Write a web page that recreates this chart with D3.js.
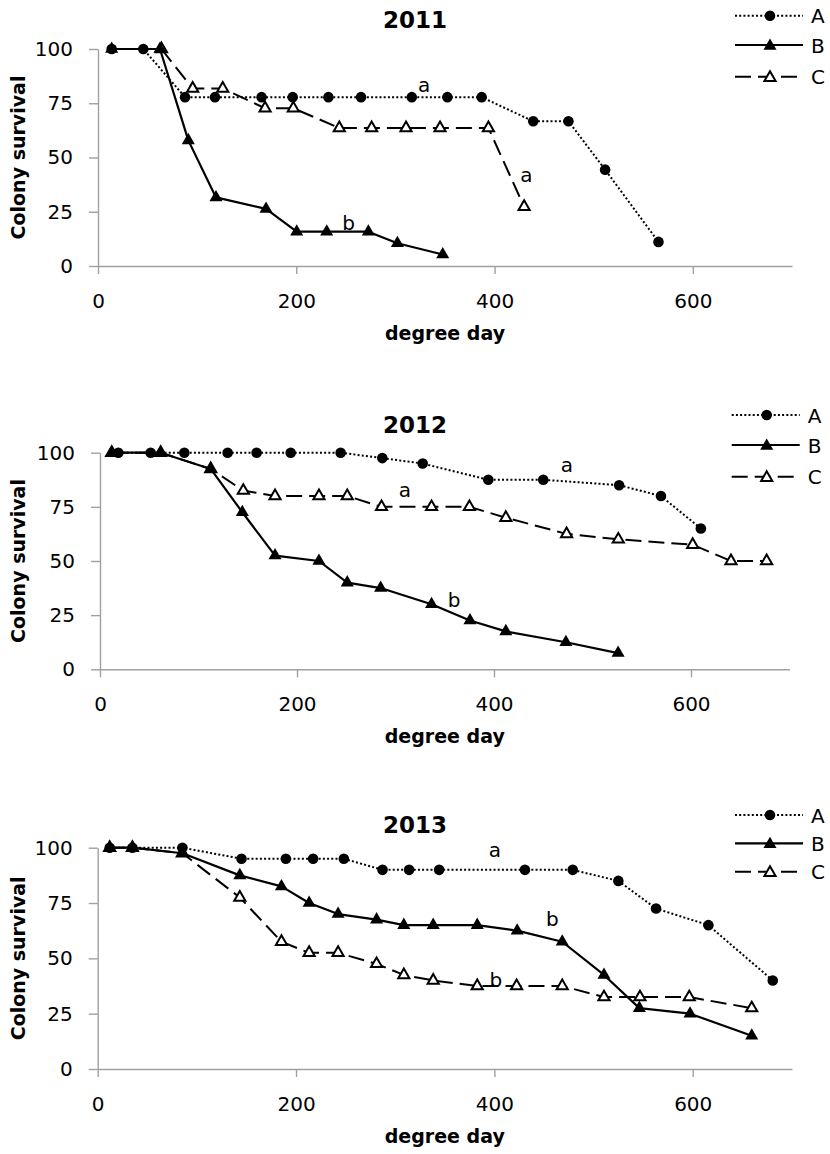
<!DOCTYPE html>
<html><head><meta charset="utf-8">
<script src="https://cdn.jsdelivr.net/npm/d3@7"></script>
<style>body{margin:0;background:#fff}svg{display:block}</style>
</head><body><svg id="c" width="830" height="1154"></svg>
<script>
// ---- data ----
const years = ["2011", "2012", "2013"];
const seriesNames = ["A", "B", "C"];
const xTicks = [0, 200, 400, 600];
const yTicks = [0, 25, 50, 75, 100];
const xMax = 700, yMax = 100;
const xTitle = "degree day";
const yTitle = "Colony survival";

const A2011 = [[13.8,100],[45.7,100],[87.8,77.8],[118,77.8],[165,77.8],[196.4,77.8],[232.4,77.8],[265.3,77.8],[316.5,77.8],[352.4,77.8],[387,77.8],[439,66.7],[474.5,66.7],[511.5,44.4],[565.3,11.1]];
const B2011 = [[13.8,100],[62.5,100],[91.1,57.9],[119,31.6],[169.5,26.3],[200.4,15.8],[230.7,15.8],[272.7,15.8],[302,10.5],[347.7,5.3]];
const C2011 = [[64,100],[95.5,81.8],[125.8,81.8],[168.5,72.7],[197,72.7],[243.4,63.6],[276,63.6],[310.7,63.6],[345,63.6],[393.8,63.6],[429.8,27.3]];

const A2012 = [[18.6,100],[51.4,100],[85.6,100],[129.6,100],[159,100],[193.6,100],[244.3,100],[286.6,97.5],[327.6,95],[394.2,87.5],[450,87.5],[527,85],[569.5,80],[610,65]];
const B2012 = [[11.9,100],[61.6,100],[112.4,92.5],[144.5,72.5],[177.7,52.5],[222.3,50],[251,40],[284.9,37.5],[336.6,30],[375.6,22.5],[412,17.5],[473,12.5],[526,7.5]];
const C2012 = [[11.9,100],[61.6,100],[112.4,92.5],[145.5,82.5],[177.7,80],[222.3,80],[251,80],[285.8,75],[336.6,75],[375,75],[412,70],[473.7,62.5],[526.2,60],[601.7,57.5],[640.6,50],[676.8,50]];

const A2013 = [[12.1,100],[35,100],[85.4,100],[145,95],[189.7,95],[217.2,95],[248.2,95],[287.2,90],[314,90],[344.3,90],[430.8,90],[479,90],[525,85],[563,72.5],[615.8,65],[680.7,40]];
const B2013 = [[12.1,100],[35,100],[85.4,97.5],[143.3,87.5],[185.3,82.5],[213.2,75],[242.4,70],[281.2,67.5],[308.7,65],[338.3,65],[382.7,65],[423,62.5],[468.4,57.5],[510.5,42.5],[546.2,27.5],[597.3,25],[659.5,15]];
const C2013 = [[12.1,100],[35,100],[85.4,97.5],[143.3,77.5],[185.3,57.5],[213.2,52.5],[242.4,52.5],[281.2,47.5],[308.7,42.5],[338.3,40],[382.7,37.5],[422.4,37.5],[468.4,37.5],[510.5,32.5],[546.8,32.5],[596.5,32.5],[659.5,27.5]];

// significance letters: [text, degree day, survival] (baseline position)
const letters2011 = [["a",329,80.2],["a",432,38.7],["b",252.7,16.6]];
const letters2012 = [["a",474,91.2],["a",309.6,79.5],["b",359.4,28.9]];
const letters2013 = [["a",400.5,95.8],["b",458.5,64.6],["b",401.5,37.2]];

// ---- layout (not data) ----
const panels = [
  {year: years[0], series: {A: A2011, B: B2011, C: C2011}, letters: letters2011,
   x0: 98, x1: 792, y0: 266, y1: 49, titleY: 28, legY: [15.7, 45, 76.7], legX: 735},
  {year: years[1], series: {A: A2012, B: B2012, C: C2012}, letters: letters2012,
   x0: 100, x1: 789.5, y0: 669.3, y1: 452.7, titleY: 433, legY: [415, 445, 476.7], legX: 731.7},
  {year: years[2], series: {A: A2013, B: B2013, C: C2013}, letters: letters2013,
   x0: 97.7, x1: 791.9, y0: 1069, y1: 847.7, titleY: 833, legY: [815, 843.3, 871.7], legX: 735}
];

const FONT = "'DejaVu Sans', sans-serif";
const AXIS = "#a0a0a0";
const styles = {
  A: {dash: "2,2.2", width: 2, marker: "circle"},
  B: {dash: null, width: 2.2, marker: "tri"},
  C: {dash: "16,7", width: 2, marker: "open"}
};
const drawOrder = ["A", "C", "B"];

const svg = d3.select("#c");

function drawMarker(g, type, cx, cy) {
  if (type === "circle") {
    g.append("circle").attr("cx", cx).attr("cy", cy).attr("r", 5.3).attr("fill", "#000");
  } else if (type === "tri") {
    g.append("path").attr("d", d3.symbol().type(d3.symbolTriangle).size(74)())
      .attr("transform", `translate(${cx},${cy})`).attr("fill", "#000");
  } else {
    g.append("path").attr("d", d3.symbol().type(d3.symbolTriangle).size(54)())
      .attr("transform", `translate(${cx},${cy})`)
      .attr("fill", "#fff").attr("stroke", "#000").attr("stroke-width", 2);
  }
}

panels.forEach(p => {
  const x = d3.scaleLinear().domain([0, xMax]).range([p.x0, p.x1]);
  const y = d3.scaleLinear().domain([0, yMax]).range([p.y0, p.y1]);
  const g = svg.append("g");

  // axes
  const ya = g.append("g").attr("transform", `translate(${p.x0},0)`)
    .call(d3.axisLeft(y).tickValues(yTicks).tickSize(9).tickSizeOuter(0).tickPadding(16));
  const xa = g.append("g").attr("transform", `translate(0,${p.y0})`)
    .call(d3.axisBottom(x).tickValues(xTicks).tickSize(8).tickSizeOuter(0).tickPadding(20));
  [ya, xa].forEach(a => {
    a.select(".domain").attr("stroke", AXIS).attr("stroke-width", 1.4);
    a.selectAll(".tick line").attr("stroke", AXIS).attr("stroke-width", 1.4);
    a.selectAll(".tick text").attr("fill", "#000").style("font-family", FONT).style("font-size", "20px");
  });

  // axis titles
  g.append("text").attr("x", (p.x0 + p.x1) / 2).attr("y", p.y0 + 74)
    .attr("text-anchor", "middle").style("font-family", FONT).style("font-size", "19px")
    .style("font-weight", "bold").text(xTitle);
  g.append("text").attr("transform", `translate(25,${(p.y0 + p.y1) / 2}) rotate(-90)`)
    .attr("text-anchor", "middle").style("font-family", FONT).style("font-size", "19px")
    .style("font-weight", "bold").text(yTitle);

  // title
  g.append("text").attr("x", 415).attr("y", p.titleY).attr("text-anchor", "middle")
    .style("font-family", FONT).style("font-size", "23px").style("font-weight", "bold").text(p.year);

  // series
  const line = d3.line().x(d => x(d[0])).y(d => y(d[1]));
  drawOrder.forEach(name => {
    const s = styles[name];
    const data = p.series[name];
    g.append("path").attr("d", line(data)).attr("fill", "none").attr("stroke", "#000")
      .attr("stroke-width", s.width).attr("stroke-dasharray", s.dash)
      .attr("stroke-linejoin", "round");
    const mg = g.append("g");
    data.forEach(d => drawMarker(mg, s.marker, x(d[0]), y(d[1])));
  });

  // letters
  p.letters.forEach(l => {
    g.append("text").attr("x", x(l[1])).attr("y", y(l[2])).attr("text-anchor", "middle")
      .style("font-family", FONT).style("font-size", "20px").text(l[0]);
  });

  // legend
  seriesNames.forEach((name, i) => {
    const s = styles[name];
    const ly = p.legY[i];
    const lx0 = p.legX, lx1 = p.legX + 68, mx = p.legX + 35;
    g.append("line").attr("x1", lx0).attr("x2", lx1).attr("y1", ly).attr("y2", ly)
      .attr("stroke", "#000").attr("stroke-width", s.width).attr("stroke-dasharray", s.dash);
    drawMarker(g, s.marker, mx, ly + (s.marker === "circle" ? 0 : 1));
    g.append("text").attr("x", lx1 + 8).attr("y", ly + 7.5)
      .style("font-family", FONT).style("font-size", "20px").text(name);
  });
});
</script></body></html>
